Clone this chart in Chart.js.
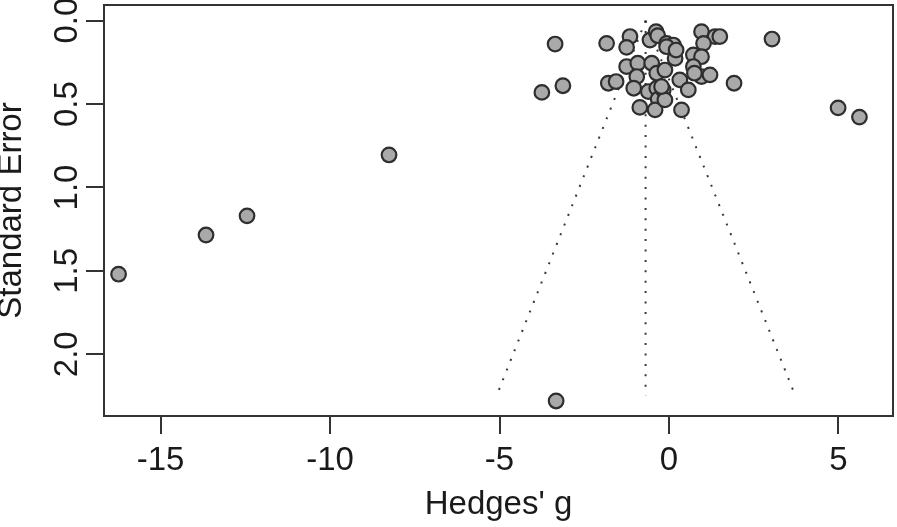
<!DOCTYPE html>
<html>
<head>
<meta charset="utf-8">
<script src="https://cdn.jsdelivr.net/npm/chart.js@4"></script>
<style>
  html, body { margin: 0; padding: 0; background: #fff; }
  canvas { display: block; }
</style>
</head>
<body>
<canvas id="funnel" width="897" height="527"></canvas>
<script>
// effect sizes (Hedges' g) and their standard errors
const hedgesG = [
  -16.24, -13.66, -12.45, -8.26, -3.33, 4.99, 5.62, 3.04, 1.92, -3.36, -3.75, -3.13,
  -1.84, -1.15, -1.25, -0.56, -0.38, -0.33, -1.25, -0.92, -0.95, -0.51, -0.36, -1.79,
  -1.56, -1.04, -0.61, -0.36, -0.32, -0.86, -0.41, -0.07, 0.96, 1.36, 1.5, 1.02,
  0.72, 0.96, 0.72, 0.96, 1.21, 0.32, 0.57, 0.37, 0.13, -0.07, 0.18, -0.12,
  -0.17, -0.12, 0.21, -0.22, 0.75
];
const stdErr = [
  1.52, 1.285, 1.17, 0.805, 2.28, 0.523, 0.578, 0.11, 0.375, 0.14, 0.43, 0.39,
  0.136, 0.095, 0.16, 0.116, 0.066, 0.09, 0.275, 0.255, 0.335, 0.255, 0.315, 0.375,
  0.365, 0.405, 0.425, 0.405, 0.47, 0.52, 0.535, 0.136, 0.066, 0.095, 0.095, 0.136,
  0.205, 0.216, 0.275, 0.335, 0.325, 0.355, 0.415, 0.535, 0.146, 0.156, 0.226, 0.296,
  0.415, 0.475, 0.176, 0.395, 0.315
];

// funnel: apex at the pooled estimate, out to the largest SE
const funnelApex = { x: -0.69, y: 0 };
const funnelBaseX = [-5.08, -0.69, 3.72];
const funnelBaseSE = 2.245;

const xTicks = [-15, -10, -5, 0, 5];
const yTicks = [0, 0.5, 1, 1.5, 2];
const yTickLabels = ["0.0", "0.5", "1.0", "1.5", "2.0"];

const FONT = "'Liberation Sans', Arial, Helvetica, sans-serif";
const INK = "#1a1a1a";
const LINE = "#333333";

const points = hedgesG.map((g, i) => ({ x: g, y: stdErr[i] }));

const funnelSets = funnelBaseX.map((bx) => ({
  type: "line",
  data: [funnelApex, { x: bx, y: funnelBaseSE }],
  borderColor: "#3a3a3a",
  borderWidth: 2,
  borderDash: [2, 8.4],
  pointRadius: 0,
  showLine: true,
  fill: false,
  order: 2,
}));

// box round the plot + rotated y tick labels (R style)
const rStyle = {
  id: "rStyle",
  afterDraw(chart) {
    const { ctx, chartArea: a } = chart;
    ctx.save();
    ctx.strokeStyle = LINE;
    ctx.lineWidth = 2;
    ctx.strokeRect(a.left, a.top, a.right - a.left, a.bottom - a.top);

    const ys = chart.scales.y;
    ctx.fillStyle = INK;
    ctx.font = "33px " + FONT;
    ctx.textAlign = "center";
    ctx.textBaseline = "alphabetic";
    yTicks.forEach((v, i) => {
      const py = ys.getPixelForValue(v);
      ctx.save();
      ctx.translate(77, py);
      ctx.rotate(-Math.PI / 2);
      ctx.fillText(yTickLabels[i], 0, 0);
      ctx.restore();
    });
    ctx.restore();
  },
};

new Chart(document.getElementById("funnel"), {
  type: "scatter",
  data: {
    datasets: [
      {
        data: points,
        backgroundColor: "#a9a9a9",
        borderColor: "#2e2e2e",
        borderWidth: 2.2,
        pointRadius: 7.3,
        order: 0,
      },
      ...funnelSets,
    ],
  },
  options: {
    responsive: false,
    animation: false,
    events: [],
    layout: { autoPadding: false, padding: { top: 5, right: 4, left: 0, bottom: 0 } },
    plugins: { legend: { display: false }, tooltip: { enabled: false } },
    scales: {
      x: {
        type: "linear",
        min: -16.67,
        max: 6.61,
        afterBuildTicks: (s) => { s.ticks = xTicks.map((v) => ({ value: v })); },
        afterFit: (s) => { s.height = 111; },
        grid: { drawOnChartArea: false, drawTicks: true, tickLength: 18, color: LINE, lineWidth: 2 },
        border: { display: false },
        ticks: {
          color: INK,
          padding: 7,
          maxRotation: 0,
          font: { family: FONT, size: 33, lineHeight: 1.2 },
          callback: (v) => String(v),
        },
        title: {
          display: true,
          text: "Hedges' g",
          color: INK,
          padding: { top: 0, bottom: 2 },
          font: { family: FONT, size: 33, lineHeight: 1.2 },
        },
      },
      y: {
        type: "linear",
        reverse: true,
        min: -0.094,
        max: 2.37,
        afterBuildTicks: (s) => { s.ticks = yTicks.map((v) => ({ value: v })); },
        afterFit: (s) => { s.width = 104; },
        grid: { drawOnChartArea: false, drawTicks: true, tickLength: 18, color: LINE, lineWidth: 2 },
        border: { display: false },
        ticks: { display: false },
        title: {
          display: true,
          text: "Standard Error",
          color: INK,
          padding: { top: 0, bottom: 0 },
          font: { family: FONT, size: 33, lineHeight: 0.7 },
        },
      },
    },
  },
  plugins: [rStyle],
});
</script>
</body>
</html>
